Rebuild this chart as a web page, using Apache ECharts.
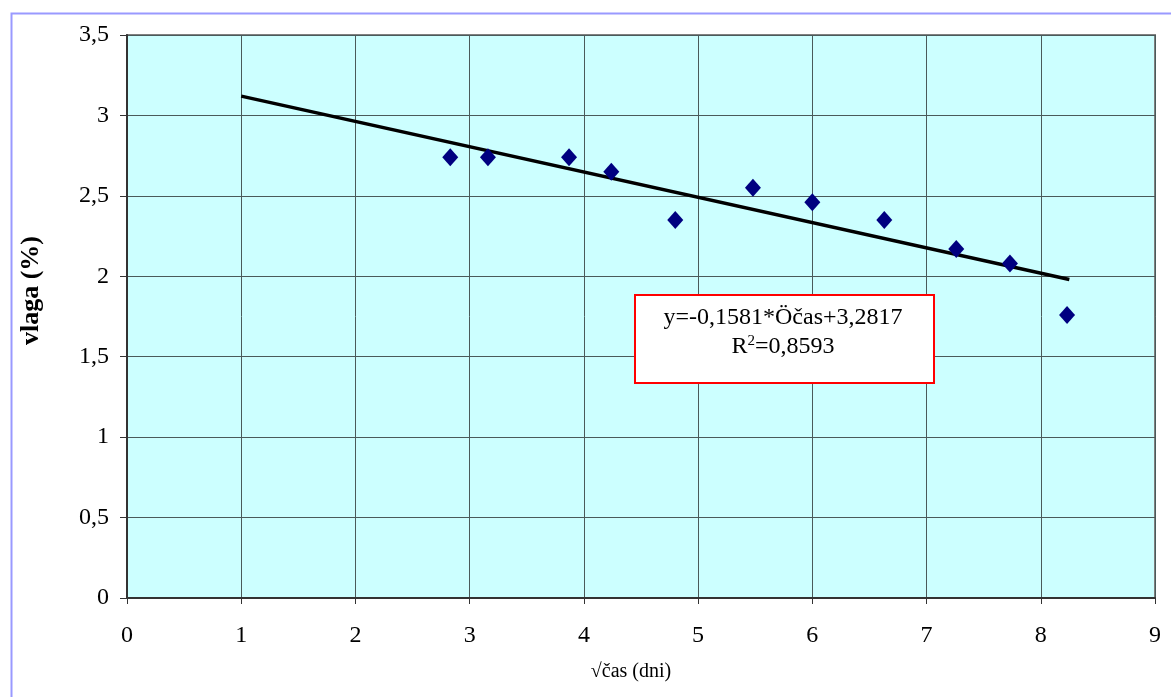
<!DOCTYPE html>
<html>
<head>
<meta charset="utf-8">
<script src="https://cdn.jsdelivr.net/npm/echarts@6/dist/echarts.min.js"></script>
<style>html,body{margin:0;padding:0;background:#fff;}#c{width:1171px;height:697px;}</style>
</head>
<body>
<div id="c"></div>
<script>
var xValues = [2.83, 3.16, 3.87, 4.24, 4.80, 5.48, 6.00, 6.63, 7.26, 7.73, 8.23];
var yValues = [2.74, 2.74, 2.74, 2.65, 2.35, 2.55, 2.46, 2.35, 2.17, 2.08, 1.76];
var trendX = [1, 8.25];
var trendY = [3.12, 1.98];
var equationLine1 = 'y=-0,1581*Öčas+3,2817';
var equationLine2 = 'R{sup|2}=0,8593';

var points = xValues.map(function (x, i) { return [x, yValues[i]]; });
var trend = trendX.map(function (x, i) { return [x, trendY[i]]; });
var fmt = function (v) { return String(v).replace('.', ','); };
var serif = '"Liberation Serif", "DejaVu Serif", serif';

var chart = echarts.init(document.getElementById('c'));
chart.setOption({
  animation: false,
  backgroundColor: '#ffffff',
  grid: { left: 127, top: 35, right: 16, bottom: 99, outerBoundsMode: 'none', containLabel: false,
    show: true, backgroundColor: '#CCFFFF', borderColor: '#808080', borderWidth: 2 },
  xAxis: {
    type: 'value', min: 0, max: 9, interval: 1,
    name: '√čas (dni)', nameLocation: 'middle', nameGap: 64,
    nameTextStyle: { fontFamily: serif, fontSize: 20, color: '#000', padding: [0, 20, 0, 0] },
    axisLine: { show: true, onZero: false, lineStyle: { color: '#333', width: 2 } },
    axisTick: { show: true, length: 6, lineStyle: { color: '#333' } },
    axisLabel: { fontFamily: serif, fontSize: 24, color: '#000', margin: 26, formatter: fmt },
    splitLine: { show: true, lineStyle: { color: '#4a5a5a', width: 1 } }
  },
  yAxis: {
    type: 'value', min: 0, max: 3.5, interval: 0.5,
    name: 'vlaga (%)', nameLocation: 'middle', nameGap: 83,
    nameTextStyle: { fontFamily: serif, fontSize: 26, fontWeight: 'bold', color: '#000', padding: [0, 0, 0, 52] },
    axisLine: { show: true, onZero: false, lineStyle: { color: '#333', width: 2 } },
    axisTick: { show: true, length: 7, lineStyle: { color: '#333' } },
    axisLabel: { fontFamily: serif, fontSize: 24, color: '#000', margin: 18, formatter: fmt },
    splitLine: { show: true, lineStyle: { color: '#4a5a5a', width: 1 } }
  },
  series: [
    {
      type: 'line', data: trend, symbol: 'none', z: 3,
      lineStyle: { color: '#000', width: 3.5 }
    },
    {
      type: 'scatter', data: points, symbol: 'diamond', symbolSize: [16, 18], z: 4,
      itemStyle: { color: '#000080', opacity: 1 }
    }
  ],
  graphic: [
    { type: 'rect', left: 9, top: 11, shape: { width: 1200, height: 800 }, style: { fill: 'none', stroke: '#9999FF', lineWidth: 2 }, z: 100 },
    { type: 'rect', left: 634, top: 294, shape: { width: 299, height: 88 }, style: { fill: '#ffffff', stroke: '#FF0000', lineWidth: 2 }, z: 50 },
    { type: 'text', x: 783, y: 318, z: 51, style: { text: equationLine1, fontFamily: serif, fontSize: 24, fill: '#000', align: 'center', verticalAlign: 'middle' } },
    { type: 'text', x: 783, y: 347, z: 51, style: { text: equationLine2, fontFamily: serif, fontSize: 24, fill: '#000', align: 'center', verticalAlign: 'middle',
      rich: { sup: { fontFamily: serif, fontSize: 15, verticalAlign: 'top', padding: [0, 0, 12, 0] } } } }
  ]
});
</script>
</body>
</html>
